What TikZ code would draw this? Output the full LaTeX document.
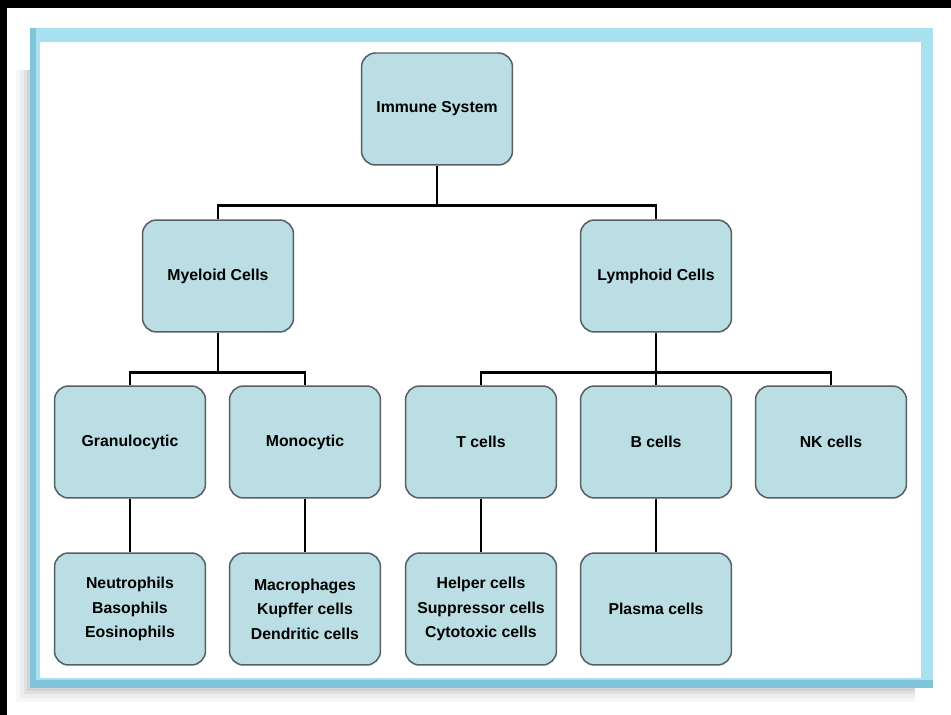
\documentclass[tikz,border=0pt]{standalone}
\usepackage{fontspec}
\setmainfont{Liberation Sans}
\usetikzlibrary{positioning}
\definecolor{cellfill}{RGB}{186,222,227}
\definecolor{celledge}{RGB}{85,95,100}
\definecolor{framecyan}{RGB}{168,226,240}
\definecolor{framedeep}{RGB}{128,196,218}
\tikzset{
  cellbox/.style={draw=celledge, line width=0.85pt, fill=cellfill, rounded corners=8pt,
    minimum width=3.02cm, minimum height=2.24cm, align=center, inner sep=2pt,
    font=\fontsize{9}{14}\selectfont\bfseries},
  branch/.style={line width=1.7pt, black},
}

\begin{document}
\begin{tikzpicture}[x=0.02cm, y=-0.02cm]
            \useasboundingbox (0,0) rectangle (951,715);
            % page and frame
            \fill[white] (0,0) rectangle (951,715);
            \foreach \s/\o in {14/0.03, 10/0.04, 6/0.05, 3/0.06}
              \fill[black, opacity=\o] (30-\s,70) rectangle (915,688+\s);
            \fill[framedeep] (30,28) rectangle (933,688);
            \fill[framecyan] (36,28) rectangle (933,680);
            \fill[white] (40,42) rectangle (921,678);
            \fill[black] (0,0) rectangle (951,8);
            \fill[black] (0,0) rectangle (7,715);
            % boxes
            \node[cellbox] at (437,109) (imm) {Immune System};
            \node[cellbox] at (218,276) (mye) {Myeloid Cells};
            \node[cellbox] at (656,276) (lym) {Lymphoid Cells};
            \node[cellbox] at (130,442) (gra) {Granulocytic};
            \node[cellbox] at (305,442) (mon) {Monocytic};
            \node[cellbox] at (481,442) (tce) {T cells};
            \node[cellbox] at (656,442) (bce) {B cells};
            \node[cellbox] at (831,442) (nkc) {NK cells};
            \node[cellbox] at (130,609) (neu) {Neutrophils\\Basophils\\Eosinophils};
            \node[cellbox] at (305,609) (mac) {Macrophages\\Kupffer cells\\Dendritic cells};
            \node[cellbox] at (481,609) (hel) {Helper cells\\Suppressor cells\\Cytotoxic cells};
            \node[cellbox] at (656,609) (pla) {Plasma cells};
            % connectors
            \draw[branch] (imm.south) -- ++(0,40) coordinate (j1);
            \draw[branch] (mye.north) |- (j1) -| (lym.north);
            \draw[branch] (mye.south) -- ++(0,40) coordinate (j2);
            \draw[branch] (gra.north) |- (j2) -| (mon.north);
            \draw[branch] (lym.south) -- ++(0,40) coordinate (j3);
            \draw[branch] (tce.north) |- (j3) -| (nkc.north)
            (bce.north) -- (j3);
            \draw[branch] (gra.south) -- (neu.north)
            (mon.south) -- (mac.north)
            (tce.south) -- (hel.north)
            (bce.south) -- (pla.north);
        \end{tikzpicture}
\end{document}
